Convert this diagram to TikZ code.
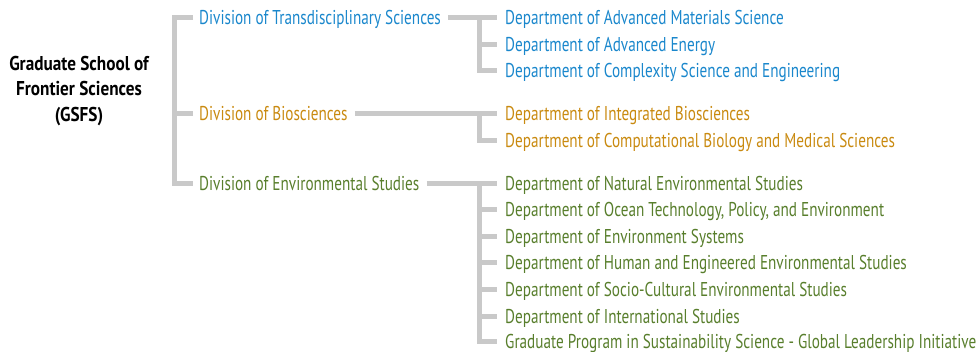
\documentclass[tikz,border=0pt]{standalone}
\usepackage{fontspec}
\setmainfont{PT Sans}[FakeStretch=0.76]
\newfontfamily\rootfont{PT Sans}[FakeStretch=0.86]
\definecolor{cblue}{HTML}{1A87CC}
\definecolor{corange}{HTML}{C98A10}
\definecolor{cgreen}{HTML}{587E2C}
\definecolor{cgray}{HTML}{C9C9C9}
\tikzset{
  conn/.style={draw=cgray, line width=5pt},
  lbl/.style={anchor=west, inner sep=0pt, text height=17pt, text depth=3pt, font=\fontsize{20}{20}\selectfont},
  bl/.style={lbl, text=cblue},
  orr/.style={lbl, text=corange},
  gr/.style={lbl, text=cgreen},
}
\begin{document}
\begin{tikzpicture}[x=1pt,y=-1pt]
\useasboundingbox (0,0) rectangle (979,351);
\node[align=center, inner sep=0pt, font=\rootfont\fontsize{20}{25.5}\selectfont\bfseries] (root) at (79,91) {Graduate School of\\Frontier Sciences\\(GSFS)};
% divisions
\node[bl] (tds) at (199,17) {Division of Transdisciplinary Sciences};
\node[orr] (bio) at (199,113) {Division of Biosciences};
\node[gr] (env) at (199,183) {Division of Environmental Studies};
% departments
\node[bl] (t1) at (505,17) {Department of Advanced Materials Science};
\node[bl] (t2) at (505,44) {Department of Advanced Energy};
\node[bl] (t3) at (505,70) {Department of Complexity Science and Engineering};
\node[orr] (b1) at (505,113) {Department of Integrated Biosciences};
\node[orr] (b2) at (505,140) {Department of Computational Biology and Medical Sciences};
\node[gr] (e1) at (505,183) {Department of Natural Environmental Studies};
\node[gr] (e2) at (505,209) {Department of Ocean Technology, Policy, and Environment};
\node[gr] (e3) at (505,236) {Department of Environment Systems};
\node[gr] (e4) at (505,262) {Department of Human and Engineered Environmental Studies};
\node[gr] (e5) at (505,289) {Department of Socio-Cultural Environmental Studies};
\node[gr] (e6) at (505,316) {Department of International Studies};
\node[gr] (e7) at (505,341) {Graduate Program in Sustainability Science - Global Leadership Initiative};
% spine from root
\coordinate (sp) at (174,0);
\draw[conn] ([xshift=-6pt]tds.west) -- (tds.west -| sp) -- (env.west -| sp) -- ([xshift=-6pt]env.west);
\draw[conn] ([xshift=-6pt]bio.west) -- (bio.west -| sp);
% division to departments
\coordinate (dj) at (479,0);
\draw[conn] ([xshift=7pt]tds.east) -- ([xshift=-8pt]t1.west);
\draw[conn] (t1.west -| dj) -- (t3.west -| dj) -- ([xshift=-8pt]t3.west);
\draw[conn] (t2.west -| dj) -- ([xshift=-8pt]t2.west);
\draw[conn] ([xshift=7pt]bio.east) -- ([xshift=-8pt]b1.west);
\draw[conn] (b1.west -| dj) -- (b2.west -| dj) -- ([xshift=-8pt]b2.west);
\draw[conn] ([xshift=7pt]env.east) -- ([xshift=-8pt]e1.west);
\draw[conn] (e1.west -| dj) -- (e7.west -| dj) -- ([xshift=-8pt]e7.west);
\foreach \n in {e2,e3,e4,e5,e6} \draw[conn] (\n.west -| dj) -- ([xshift=-8pt]\n.west);
\end{tikzpicture}
\end{document}
